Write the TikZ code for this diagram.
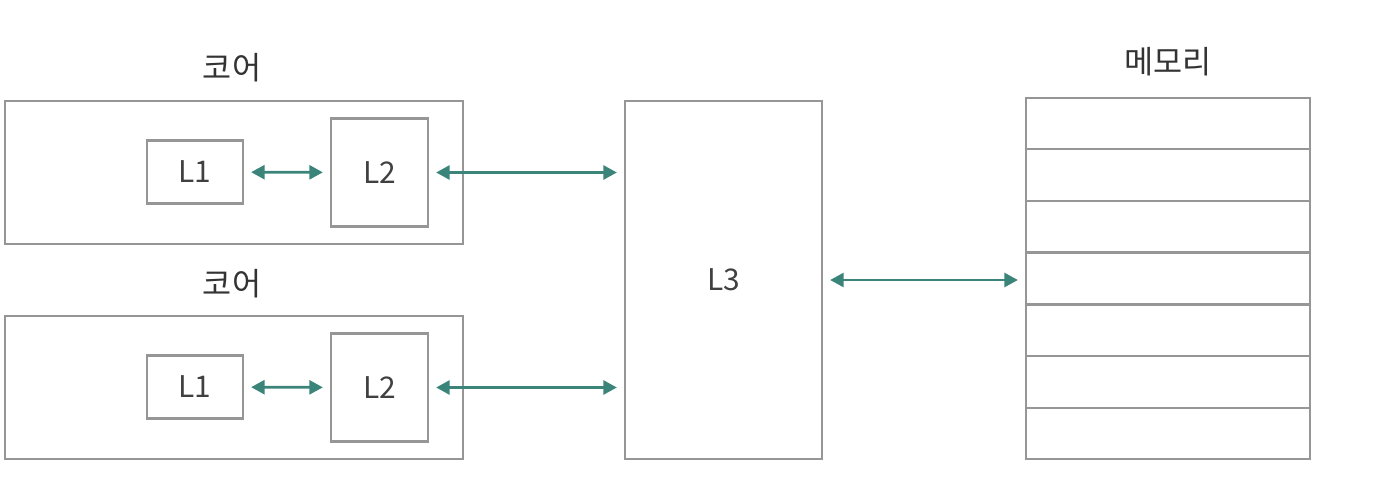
\documentclass[tikz,border=0pt]{standalone}
\usepackage{fontspec}
\setmainfont{Noto Sans CJK KR}
\usepackage{tikz}
\usetikzlibrary{arrows.meta, positioning, calc}
\definecolor{boxline}{RGB}{150,150,150}
\definecolor{linkteal}{RGB}{58,132,122}

\begin{document}
\begin{tikzpicture}[
    every node/.style={font=\fontsize{17}{20}\selectfont, text=black!75},
    core/.style={rectangle, draw=boxline, line width=1.3pt, minimum width=9.16cm, minimum height=2.86cm},
    lone/.style={rectangle, draw=boxline, line width=1.3pt, minimum width=1.92cm, minimum height=1.26cm},
    ltwo/.style={rectangle, draw=boxline, line width=1.3pt, minimum width=1.94cm, minimum height=2.16cm},
    cache/.style={rectangle, draw=boxline, line width=1.3pt, minimum width=3.94cm, minimum height=7.16cm},
    mem/.style={rectangle, draw=boxline, line width=1.3pt, minimum width=5.68cm, minimum height=7.22cm, inner sep=0pt},
    lbl/.style={font=\fontsize{18}{21}\selectfont, text=black!80},
    link/.style={{Triangle[length=0.27cm, width=0.28cm]}-{Triangle[length=0.27cm, width=0.28cm]},
                 linkteal, line width=1.5pt, shorten <=0.14cm, shorten >=0.14cm},
  ]
    \useasboundingbox (0,0) rectangle (28,-9.84);
    % two cores, each with L1 and L2
    \foreach \c/\y in {a/-3.45, b/-7.75}{
      \node[core] (core\c) at (4.68, \y) {};
      \node[lone] (lone\c) at (3.90, \y+0.01) {L1};
      \node[ltwo] (ltwo\c) at (7.59, \y) {L2};
    }
    \node[lbl] (tcorea) at (4.64, -1.36) {코어};
    \node[lbl] (tcoreb) at (4.64, -5.68) {코어};
    % shared L3
    \node[cache] (lthree) at (14.47, -5.60) {L3};
    % memory
    \node[mem] (memory) at (23.36, -5.57) {};
    \node[lbl] (tmem) at (23.36, -1.24) {메모리};
    \foreach \i in {1,...,6}{
      \draw[boxline, line width=1.3pt] ($(memory.north west)!\i/7!(memory.south west)$) coordinate (rl\i)
        -- ($(memory.north east)!\i/7!(memory.south east)$) coordinate (rr\i);
    }
    % links
    \foreach \c in {a, b}{
      \draw[link] (lone\c) -- (ltwo\c);
      \draw[link] (ltwo\c.east) -- (ltwo\c.east -| lthree.west);
    }
    \draw[link] (lthree.east) -- (lthree.east -| memory.west);
  \end{tikzpicture}
\end{document}
